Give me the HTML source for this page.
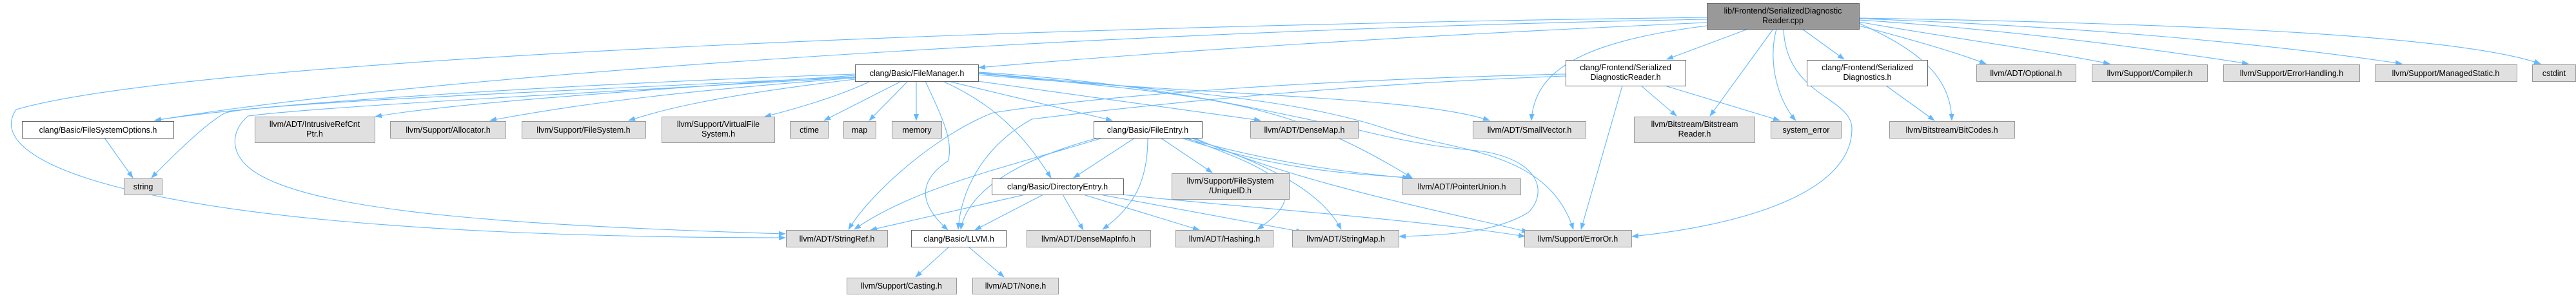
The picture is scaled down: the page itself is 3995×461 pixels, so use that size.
<!DOCTYPE html>
<html><head><meta charset="utf-8"><style>
html,body{margin:0;padding:0;background:#fff;width:3995px;height:461px;overflow:hidden}
svg{display:block}
text{font-family:"Liberation Sans",sans-serif;font-size:12.5px;fill:#000;text-anchor:middle}
.e{fill:none;stroke:#63b8ff;stroke-width:1.1}
.g{fill:#e0e0e0;stroke:#999}
.w{fill:#fff;stroke:#666}
.m{fill:#999;stroke:#666}
</style></head><body>
<svg width="3995" height="461" viewBox="0 0 3995 461" xmlns="http://www.w3.org/2000/svg">
<defs><marker id="a" markerWidth="11" markerHeight="8" refX="10" refY="4" orient="auto" markerUnits="userSpaceOnUse"><path d="M0,0 L11,4 L0,8 z" fill="#63b8ff"/></marker></defs>
<g class="e" marker-end="url(#a)">
<path d="M2647,35 C2200,55 1800,80 1518,105"/>
<path d="M2647,30 C1800,45 700,110 240,187"/>
<path d="M2647,27 C1600,40 300,90 25,170 C-30,250 200,368 1218,369"/>
<path d="M2647,40 C2450,65 2380,110 2375,187"/>
<path d="M2711,45 L2585,92"/>
<path d="M2750,45 L2652,180"/>
<path d="M2755,45 C2740,100 2760,160 2785,187"/>
<path d="M2766,45 C2770,150 2872,150 2872,200 C2872,300 2700,350 2531,367"/>
<path d="M2795,45 L2860,92"/>
<path d="M2883,36 C2980,80 3025,120 3027,187"/>
<path d="M2883,40 C2960,60 3030,80 3080,99"/>
<path d="M2883,34 C3000,55 3150,75 3272,99"/>
<path d="M2883,31 C3100,45 3300,70 3487,99"/>
<path d="M2883,29 C3200,40 3500,65 3725,99"/>
<path d="M2883,28 C3300,35 3800,50 3940,99"/>
<path d="M1326,115 C900,130 400,160 240,187"/>
<path d="M1326,117 C1000,140 700,160 582,181"/>
<path d="M1326,121 C1000,145 850,170 760,187"/>
<path d="M1326,123 C1100,150 1030,170 975,187"/>
<path d="M1350,126 C1300,150 1230,170 1186,181"/>
<path d="M1398,126 L1278,187"/>
<path d="M1408,126 L1348,187"/>
<path d="M1421,126 L1421,187"/>
<path d="M1326,119 C900,140 400,160 350,175 C320,190 260,250 235,276"/>
<path d="M1326,120 C900,145 500,165 385,180 C360,200 350,240 400,270 C500,330 800,350 1218,363"/>
<path d="M1435,126 C1460,180 1480,220 1470,250 C1410,290 1440,330 1470,357"/>
<path d="M1462,126 C1560,170 1600,230 1630,276"/>
<path d="M1470,126 L1725,187"/>
<path d="M1516,126 L1955,187"/>
<path d="M1517,116 C1900,150 2200,150 2310,187"/>
<path d="M1517,114 C1900,150 2000,160 2190,276"/>
<path d="M1517,112 C1800,130 1950,170 2100,200 C2200,225 2250,230 2300,235 C2390,250 2400,300 2370,330 C2320,360 2250,365 2170,367"/>
<path d="M1517,113 C1800,140 2000,150 2150,200 C2250,235 2400,230 2440,356"/>
<path d="M2428,115 C2000,125 1700,150 1540,175 C1450,210 1350,300 1316,356"/>
<path d="M2428,118 C2100,130 1800,160 1600,185 C1520,230 1490,300 1486,356"/>
<path d="M2545,133 L2600,180"/>
<path d="M2582,133 L2760,187"/>
<path d="M2516,133 L2452,356"/>
<path d="M2925,133 L3000,187"/>
<path d="M1760,214 L1665,276"/>
<path d="M1800,214 L1880,268"/>
<path d="M1780,214 C1780,280 1760,320 1710,356"/>
<path d="M1710,214 C1560,260 1420,290 1325,356"/>
<path d="M1703,214 C1570,250 1500,300 1490,356"/>
<path d="M1832,214 C2000,270 2120,270 2185,276"/>
<path d="M1836,214 C2000,260 2120,270 2190,277"/>
<path d="M1840,214 C1960,260 2050,290 1950,356"/>
<path d="M1847,214 C1980,260 2050,300 2080,356"/>
<path d="M1852,214 C2000,280 2200,320 2370,360"/>
<path d="M1590,302 L1350,357"/>
<path d="M1618,302 L1512,357"/>
<path d="M1648,302 L1680,357"/>
<path d="M1680,302 L1860,357"/>
<path d="M1706,302 L2020,360"/>
<path d="M1740,302 C1900,320 2200,340 2365,367"/>
<path d="M1472,383 L1420,430"/>
<path d="M1502,383 L1557,430"/>
<path d="M162,214 L206,276"/>
</g>
<rect class="m" x="2647.5" y="5.5" width="236" height="40"/><text x="2765" y="21">lib/Frontend/SerializedDiagnostic</text><text x="2765" y="36">Reader.cpp</text>
<rect class="w" x="1326.5" y="100.5" width="191" height="26"/><text x="1422" y="118">clang/Basic/FileManager.h</text>
<rect class="w" x="2428.5" y="93.5" width="186" height="40"/><text x="2521" y="109">clang/Frontend/Serialized</text><text x="2521" y="124">DiagnosticReader.h</text>
<rect class="w" x="2802.5" y="93.5" width="187" height="40"/><text x="2896" y="109">clang/Frontend/Serialized</text><text x="2896" y="124">Diagnostics.h</text>
<rect class="g" x="3065.5" y="100.5" width="154" height="26"/><text x="3142" y="118">llvm/ADT/Optional.h</text>
<rect class="g" x="3244.5" y="100.5" width="179" height="26"/><text x="3334" y="118">llvm/Support/Compiler.h</text>
<rect class="g" x="3448.5" y="100.5" width="211" height="26"/><text x="3554" y="118">llvm/Support/ErrorHandling.h</text>
<rect class="g" x="3683.5" y="100.5" width="220" height="26"/><text x="3793" y="118">llvm/Support/ManagedStatic.h</text>
<rect class="g" x="3927.5" y="100.5" width="67" height="26"/><text x="3961" y="118">cstdint</text>
<rect class="w" x="34.5" y="188.5" width="235" height="26"/><text x="152" y="206">clang/Basic/FileSystemOptions.h</text>
<rect class="g" x="395.5" y="181.5" width="186" height="40"/><text x="488" y="197">llvm/ADT/IntrusiveRefCnt</text><text x="488" y="212">Ptr.h</text>
<rect class="g" x="605.5" y="188.5" width="179" height="26"/><text x="695" y="206">llvm/Support/Allocator.h</text>
<rect class="g" x="809.5" y="188.5" width="192" height="26"/><text x="905" y="206">llvm/Support/FileSystem.h</text>
<rect class="g" x="1026.5" y="181.5" width="175" height="40"/><text x="1114" y="197">llvm/Support/VirtualFile</text><text x="1114" y="212">System.h</text>
<rect class="g" x="1225.5" y="188.5" width="59" height="26"/><text x="1255" y="206">ctime</text>
<rect class="g" x="1308.5" y="188.5" width="50" height="26"/><text x="1333" y="206">map</text>
<rect class="g" x="1383.5" y="188.5" width="77" height="26"/><text x="1422" y="206">memory</text>
<rect class="w" x="1696.5" y="188.5" width="168" height="26"/><text x="1780" y="206">clang/Basic/FileEntry.h</text>
<rect class="g" x="1939.5" y="188.5" width="167" height="26"/><text x="2023" y="206">llvm/ADT/DenseMap.h</text>
<rect class="g" x="2284.5" y="188.5" width="175" height="26"/><text x="2372" y="206">llvm/ADT/SmallVector.h</text>
<rect class="g" x="2534.5" y="181.5" width="187" height="40"/><text x="2628" y="197">llvm/Bitstream/Bitstream</text><text x="2628" y="212">Reader.h</text>
<rect class="g" x="2746.5" y="188.5" width="109" height="26"/><text x="2801" y="206">system_error</text>
<rect class="g" x="2930.5" y="188.5" width="194" height="26"/><text x="3027" y="206">llvm/Bitstream/BitCodes.h</text>
<rect class="g" x="192.5" y="277.5" width="59" height="25"/><text x="222" y="294">string</text>
<rect class="w" x="1538.5" y="277.5" width="204" height="25"/><text x="1640" y="294">clang/Basic/DirectoryEntry.h</text>
<rect class="g" x="1817.5" y="269.5" width="182" height="40"/><text x="1908" y="285">llvm/Support/FileSystem</text><text x="1908" y="300">/UniqueID.h</text>
<rect class="g" x="2175.5" y="277.5" width="183" height="25"/><text x="2267" y="294">llvm/ADT/PointerUnion.h</text>
<rect class="g" x="1219.5" y="357.5" width="157" height="26"/><text x="1298" y="375">llvm/ADT/StringRef.h</text>
<rect class="w" x="1413.5" y="357.5" width="147" height="26"/><text x="1487" y="375">clang/Basic/LLVM.h</text>
<rect class="g" x="1592.5" y="357.5" width="192" height="26"/><text x="1688" y="375">llvm/ADT/DenseMapInfo.h</text>
<rect class="g" x="1823.5" y="357.5" width="151" height="26"/><text x="1899" y="375">llvm/ADT/Hashing.h</text>
<rect class="g" x="2004.5" y="357.5" width="165" height="26"/><text x="2087" y="375">llvm/ADT/StringMap.h</text>
<rect class="g" x="2364.5" y="357.5" width="166" height="26"/><text x="2447" y="375">llvm/Support/ErrorOr.h</text>
<rect class="g" x="1313.5" y="431.5" width="170" height="25"/><text x="1398" y="448">llvm/Support/Casting.h</text>
<rect class="g" x="1508.5" y="431.5" width="133" height="25"/><text x="1575" y="448">llvm/ADT/None.h</text>
</svg>
</body></html>
